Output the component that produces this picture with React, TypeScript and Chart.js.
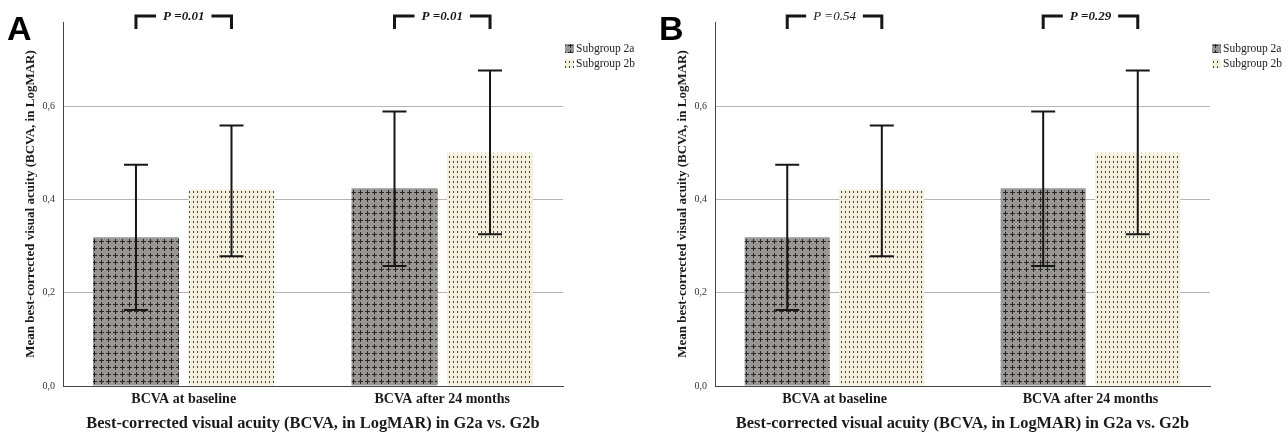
import React, { useEffect, useRef } from 'react';
import { Chart, registerables } from 'chart.js';

Chart.register(...registerables);

const categories = ['BCVA at baseline', 'BCVA after 24 months'];
const seriesNames = ['Subgroup 2a', 'Subgroup 2b'];
const mean2a = [0.319, 0.424];
const mean2b = [0.421, 0.5];
const lower2a = [0.163, 0.257];
const upper2a = [0.474, 0.588];
const lower2b = [0.278, 0.325];
const upper2b = [0.558, 0.676];
const yTicks = [0, 0.2, 0.4, 0.6];
const yMax = 0.78;
const xMin = -0.467;
const xMax = 1.467;
const pLabelsA = ['P =0.01', 'P =0.01'];
const pLabelsB = ['P =0.54', 'P =0.29'];
const pBoldA = [true, true];
const pBoldB = [false, true];
const yTitle = 'Mean best-corrected visual acuity (BCVA, in LogMAR)';
const xTitle = 'Best-corrected visual acuity (BCVA, in LogMAR) in G2a vs. G2b';

const SERIF = '"Liberation Serif", "Times New Roman", serif';
const SANS = '"Liberation Sans", Arial, sans-serif';

function crossPattern(ctx: CanvasRenderingContext2D) {
  const c = document.createElement('canvas');
  c.width = 7;
  c.height = 7;
  const g = c.getContext('2d')!;
  g.fillStyle = '#9a9696';
  g.fillRect(0, 0, 7, 7);
  g.fillStyle = '#262626';
  g.fillRect(1, 3, 5, 1);
  g.fillRect(3, 1, 1, 5);
  return ctx.createPattern(c, 'repeat')!;
}

function dotPattern(ctx: CanvasRenderingContext2D) {
  const c = document.createElement('canvas');
  c.width = 4;
  c.height = 5;
  const g = c.getContext('2d')!;
  g.fillStyle = '#f4f0dc';
  g.fillRect(0, 0, 4, 5);
  g.fillStyle = '#444';
  g.fillRect(1, 1, 1, 2);
  return ctx.createPattern(c, 'repeat')!;
}

type PanelProps = {
  letter: string;
  pLabels: string[];
  pBold: boolean[];
  width: number;
  left: number;
  areaRight: number;
};

function Panel({ letter, pLabels, pBold, width, left, areaRight }: PanelProps) {
  const ref = useRef<HTMLCanvasElement>(null);
  useEffect(() => {
    const canvas = ref.current!;
    const ctx0 = canvas.getContext('2d')!;
    const patA = crossPattern(ctx0);
    const patB = dotPattern(ctx0);
    const lows = [lower2a, lower2b];
    const ups = [upper2a, upper2b];

    const overlay = {
      id: 'overlay',
      afterDatasetsDraw(chart: any) {
        const ctx = chart.ctx as CanvasRenderingContext2D;
        const y = chart.scales.y;
        ctx.save();
        ctx.strokeStyle = '#161616';
        ctx.lineWidth = 2;
        for (let d = 0; d < 2; d++) {
          const meta = chart.getDatasetMeta(d);
          meta.data.forEach((el: any, j: number) => {
            const x = el.x;
            const yl = y.getPixelForValue(lows[d][j]);
            const yu = y.getPixelForValue(ups[d][j]);
            ctx.beginPath();
            ctx.moveTo(x, yl);
            ctx.lineTo(x, yu);
            ctx.moveTo(x - 12, yu);
            ctx.lineTo(x + 12, yu);
            ctx.moveTo(x - 12, yl);
            ctx.lineTo(x + 12, yl);
            ctx.stroke();
          });
        }
        ctx.restore();
      },
      afterDraw(chart: any) {
        const ctx = chart.ctx as CanvasRenderingContext2D;
        const area = chart.chartArea;
        ctx.save();
        // panel letter
        ctx.fillStyle = '#000';
        ctx.font = `bold 34px ${SANS}`;
        ctx.textAlign = 'left';
        ctx.textBaseline = 'alphabetic';
        ctx.fillText(letter, 7, 40);
        // y title
        ctx.save();
        ctx.translate(31, (area.top + area.bottom) / 2);
        ctx.rotate(-Math.PI / 2);
        ctx.font = `bold 13px ${SERIF}`;
        ctx.textAlign = 'center';
        ctx.textBaseline = 'middle';
        ctx.fillStyle = '#1a1a1a';
        ctx.fillText(yTitle, 0, 0);
        ctx.restore();
        // bottom title
        ctx.font = `bold 16.4px ${SERIF}`;
        ctx.textAlign = 'center';
        ctx.textBaseline = 'middle';
        ctx.fillStyle = '#1a1a1a';
        ctx.fillText(xTitle, (area.left + area.right) / 2, 424);
        // legend
        const lx = area.right + 2;
        const rows = [48, 63];
        const pats = [patA, patB];
        ctx.font = `11.5px ${SERIF}`;
        ctx.textAlign = 'left';
        ctx.textBaseline = 'middle';
        for (let i = 0; i < 2; i++) {
          ctx.fillStyle = pats[i];
          ctx.fillRect(lx, rows[i] - 4, 9, 9);
          ctx.fillStyle = '#222';
          ctx.fillText(seriesNames[i], lx + 11, rows[i] + 0.5);
        }
        // p brackets
        const m0 = chart.getDatasetMeta(0);
        const m1 = chart.getDatasetMeta(1);
        ctx.strokeStyle = '#161616';
        ctx.lineWidth = 3;
        for (let j = 0; j < categories.length; j++) {
          const x1 = m0.data[j].x;
          const x2 = m1.data[j].x;
          const mid = (x1 + x2) / 2;
          ctx.font = `${pBold[j] ? 'bold ' : ''}italic 13px ${SERIF}`;
          const tw = ctx.measureText(pLabels[j]).width;
          const yT = 16;
          const yB = 29;
          ctx.beginPath();
          ctx.moveTo(x1, yB);
          ctx.lineTo(x1, yT);
          ctx.lineTo(mid - tw / 2 - 7, yT);
          ctx.moveTo(mid + tw / 2 + 7, yT);
          ctx.lineTo(x2, yT);
          ctx.lineTo(x2, yB);
          ctx.stroke();
          ctx.fillStyle = '#161616';
          ctx.textAlign = 'center';
          ctx.textBaseline = 'middle';
          ctx.fillText(pLabels[j], mid, yT + 1);
        }
        ctx.restore();
      },
    };

    const chart = new Chart(canvas, {
      type: 'bar',
      data: {
        datasets: [
          {
            label: seriesNames[0],
            data: mean2a.map((v, i) => ({ x: i, y: v })),
            backgroundColor: patA as any,
            borderWidth: 0,
          },
          {
            label: seriesNames[1],
            data: mean2b.map((v, i) => ({ x: i, y: v })),
            backgroundColor: patB as any,
            borderWidth: 0,
          },
        ],
      },
      options: {
        responsive: false,
        animation: false,
        devicePixelRatio: 1,
        layout: { padding: { left: 0, right: width - areaRight, top: 22, bottom: 0 } },
        datasets: { bar: { categoryPercentage: 0.739, barPercentage: 0.9 } },
        plugins: { legend: { display: false }, tooltip: { enabled: false }, title: { display: false } },
        scales: {
          x: {
            type: 'linear',
            min: xMin,
            max: xMax,
            offset: false,
            grid: { display: false, drawTicks: false },
            border: { color: '#444', width: 1 },
            ticks: {
              font: { family: SERIF, size: 14, weight: 'bold' },
              color: '#1a1a1a',
              padding: 5,
              maxRotation: 0,
              autoSkip: false,
              callback: (v: any) => categories[Math.round(Number(v))] ?? '',
            },
            afterBuildTicks: (s: any) => {
              s.ticks = categories.map((_, i) => ({ value: i }));
            },
            afterFit: (s: any) => {
              s.height = 53;
            },
          },
          y: {
            min: 0,
            max: yMax,
            grid: {
              drawTicks: false,
              color: (c: any) => (c.tick && c.tick.value === 0 ? 'rgba(0,0,0,0)' : '#b4b4b4'),
              lineWidth: 1,
            },
            border: { color: '#444', width: 1 },
            ticks: {
              font: { family: SERIF, size: 10 },
              color: '#333',
              padding: 8,
              callback: (v: any) => Number(v).toFixed(1).replace('.', ','),
            },
            afterBuildTicks: (s: any) => {
              s.ticks = yTicks.map((v) => ({ value: v }));
            },
            afterFit: (s: any) => {
              s.width = 63;
            },
          },
        },
      },
      plugins: [overlay],
    });
    return () => chart.destroy();
  }, []);
  return (
    <canvas
      ref={ref}
      width={width}
      height={439}
      style={{ position: 'absolute', left, top: 0, width, height: 439 }}
    />
  );
}

export default function App() {
  return (
    <div style={{ position: 'absolute', left: 0, top: 0, width: 1288, height: 439, background: '#fff', overflow: 'hidden' }}>
      <Panel letter="A" pLabels={pLabelsA} pBold={pBoldA} width={640} left={0} areaRight={563} />
      <Panel letter="B" pLabels={pLabelsB} pBold={pBoldB} width={636} left={652} areaRight={558} />
    </div>
  );
}
